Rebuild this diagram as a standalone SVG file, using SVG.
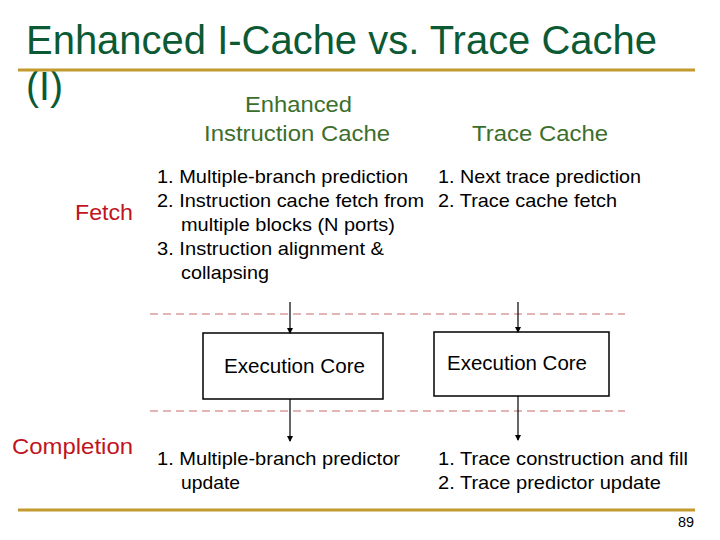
<svg xmlns="http://www.w3.org/2000/svg" width="720" height="540" viewBox="0 0 720 540">
<defs>
<marker id="ah" markerWidth="6" markerHeight="6" refX="5" refY="3" orient="auto" markerUnits="userSpaceOnUse">
<path d="M0,0 L6,3 L0,6 Z" fill="#000"/>
</marker>
<style>
text{font-family:"Liberation Sans",Arial,sans-serif}
.title{font-size:40px;fill:#0b5a34}
.hdr{font-size:22px;fill:#3c6e2c}
.lbl{font-size:22px;fill:#c0141e}
.item{font-size:19px;fill:#000}
.core{font-size:20px;fill:#000}
.box{fill:#fff;stroke:#000;stroke-width:1.5}
.dash{stroke:#c86a6a;stroke-width:1;stroke-dasharray:8 5;fill:none}
.gold{stroke:#c29a2e;stroke-width:3}
.conn{stroke:#000;stroke-width:1.2;fill:none;marker-end:url(#ah)}
</style>
</defs>
<rect width="720" height="540" fill="#fff"/>
<g id="title">
<text class="title" x="26" y="54" textLength="631" lengthAdjust="spacingAndGlyphs">Enhanced I-Cache vs. Trace Cache</text>
<text class="title" x="26" y="100" textLength="37" lengthAdjust="spacingAndGlyphs">(I)</text>
<line class="gold" x1="18" y1="70" x2="695" y2="70"/>
</g>
<g id="headers">
<text class="hdr" x="245" y="112" textLength="107" lengthAdjust="spacingAndGlyphs">Enhanced</text>
<text class="hdr" x="204" y="141" textLength="186" lengthAdjust="spacingAndGlyphs">Instruction Cache</text>
<text class="hdr" x="472" y="141" textLength="136" lengthAdjust="spacingAndGlyphs">Trace Cache</text>
</g>
<g id="labels">
<text class="lbl" x="75" y="220" textLength="58" lengthAdjust="spacingAndGlyphs">Fetch</text>
<text class="lbl" x="12" y="454" textLength="121" lengthAdjust="spacingAndGlyphs">Completion</text>
</g>
<g id="fetch-left">
<text class="item" x="157" y="183" textLength="251" lengthAdjust="spacingAndGlyphs">1. Multiple-branch prediction</text>
<text class="item" x="157" y="207" textLength="267" lengthAdjust="spacingAndGlyphs">2. Instruction cache fetch from</text>
<text class="item" x="181" y="231" textLength="214" lengthAdjust="spacingAndGlyphs">multiple blocks (N ports)</text>
<text class="item" x="157" y="255" textLength="227" lengthAdjust="spacingAndGlyphs">3. Instruction alignment &amp;</text>
<text class="item" x="181" y="279" textLength="88" lengthAdjust="spacingAndGlyphs">collapsing</text>
</g>
<g id="fetch-right">
<text class="item" x="438" y="183" textLength="203" lengthAdjust="spacingAndGlyphs">1. Next trace prediction</text>
<text class="item" x="438" y="207" textLength="179" lengthAdjust="spacingAndGlyphs">2. Trace cache fetch</text>
</g>
<g id="separators">
<line class="dash" x1="150" y1="314" x2="625" y2="314"/>
<line class="dash" x1="150" y1="411" x2="625" y2="411"/>
</g>
<g id="core-left">
<rect class="box" x="203" y="333" width="180" height="66"/>
<text class="core" x="224" y="373" textLength="141" lengthAdjust="spacingAndGlyphs">Execution Core</text>
</g>
<g id="core-right">
<rect class="box" x="434" y="332" width="175" height="64"/>
<text class="core" x="447" y="370" textLength="140" lengthAdjust="spacingAndGlyphs">Execution Core</text>
</g>
<g id="connectors">
<line class="conn" x1="290" y1="302" x2="290" y2="333"/>
<line class="conn" x1="290" y1="399" x2="290" y2="441"/>
<line class="conn" x1="518" y1="302" x2="518" y2="332"/>
<line class="conn" x1="518" y1="396" x2="518" y2="440"/>
</g>
<g id="completion-left">
<text class="item" x="157" y="465" textLength="243" lengthAdjust="spacingAndGlyphs">1. Multiple-branch predictor</text>
<text class="item" x="181" y="489" textLength="59" lengthAdjust="spacingAndGlyphs">update</text>
</g>
<g id="completion-right">
<text class="item" x="438" y="465" textLength="250" lengthAdjust="spacingAndGlyphs">1. Trace construction and fill</text>
<text class="item" x="438" y="489" textLength="223" lengthAdjust="spacingAndGlyphs">2. Trace predictor update</text>
</g>
<g id="footer">
<line class="gold" x1="18" y1="510" x2="695" y2="510"/>
<text x="678" y="527" textLength="16" lengthAdjust="spacingAndGlyphs" style="font-size:14px;fill:#000">89</text>
</g>
</svg>
